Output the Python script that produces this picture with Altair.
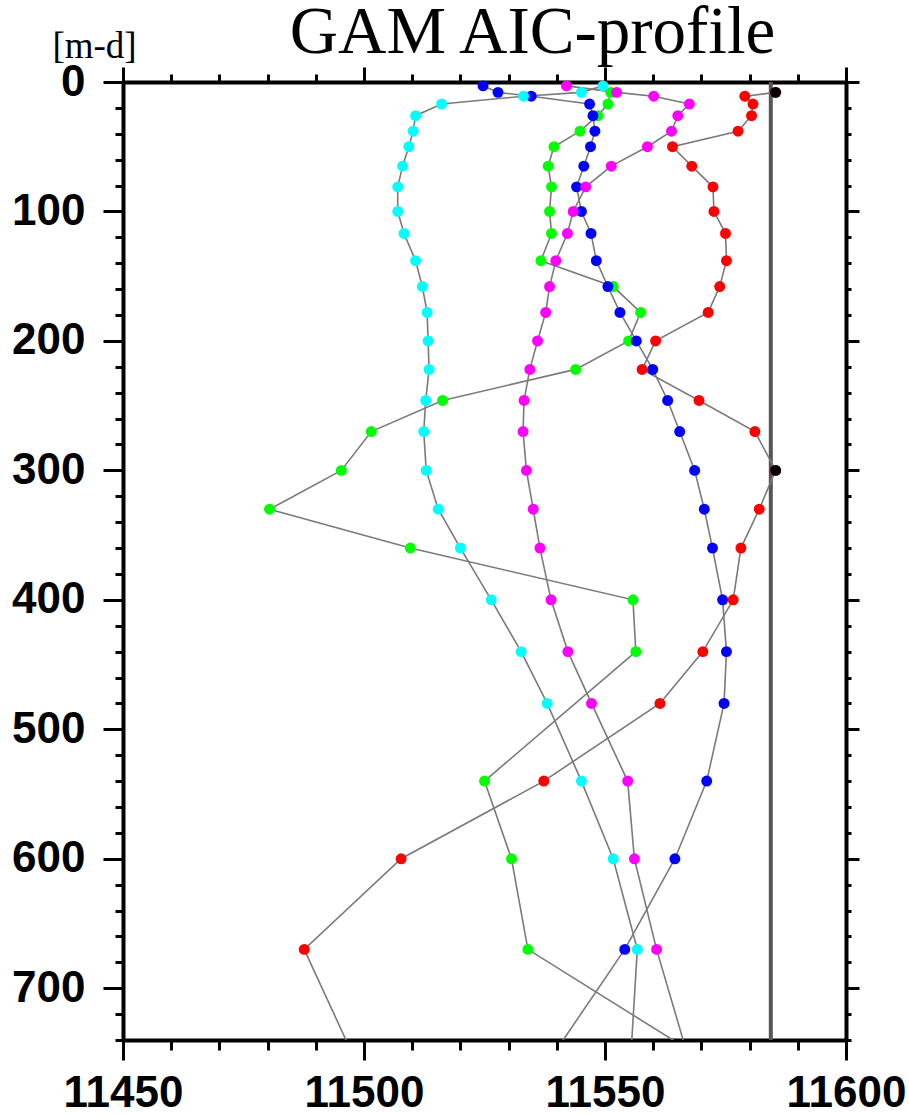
import altair as alt
import pandas as pd

# Measured depth of each profile row [m-d]
depth = [3, 8, 11, 17, 26, 38, 50, 65, 81, 100, 117, 138, 158, 178, 200,
         222, 246, 270, 300, 330, 360, 400, 440, 480, 540, 600, 670, 750]

# AIC of each GAM profile at those depths (None = no estimate at that depth)
aic_red = [None, 11585.4, 11579.0, 11580.7, 11580.4, 11577.6, 11564.0, 11568.0,
           11572.4, 11572.6, 11575.0, 11575.2, 11573.8, 11571.4, 11560.5, 11557.7,
           11569.5, 11581.1, 11585.4, 11582.0, 11578.2, 11576.6, 11570.3, 11561.4,
           11537.3, 11507.7, 11487.6, 11497.5]
aic_green = [None, 11551.2, None, 11550.6, 11548.5, 11544.8, 11539.4, 11538.2,
             11538.9, 11538.5, 11538.9, 11536.7, 11551.7, 11557.4, 11554.9, 11543.9,
             11516.3, 11501.5, 11495.3, 11480.4, 11509.6, 11555.8, 11556.4, None,
             11525.0, 11530.6, 11534.0, 11568.4]
aic_blue = [11524.7, 11527.8, 11534.7, 11546.8, 11547.5, 11547.9, 11547.0, 11545.6,
            11544.1, 11545.1, 11547.1, 11548.2, 11550.6, 11553.1, 11556.5, 11559.9,
            11563.0, 11565.5, 11568.6, 11570.6, 11572.3, 11574.4, 11575.2, 11574.7,
            11571.1, 11564.5, 11554.1, 11539.5]
aic_cyan = [11549.6, 11545.1, 11533.1, 11516.1, 11510.7, 11510.2, 11509.3, 11508.0,
            11507.0, 11507.0, 11508.3, 11510.7, 11512.1, 11513.1, 11513.3, 11513.5,
            11512.8, 11512.4, 11512.9, 11515.4, 11520.0, 11526.4, 11532.6, 11538.0,
            11545.1, 11551.7, 11556.7, 11555.4]
aic_magenta = [11542.0, 11552.4, 11560.1, 11567.5, 11565.1, 11563.8, 11558.8, 11551.3,
               11546.0, 11543.4, 11542.2, 11539.8, 11538.5, 11537.7, 11536.0, 11534.4,
               11533.2, 11533.0, 11533.7, 11535.1, 11536.5, 11538.8, 11542.3, 11547.2,
               11554.7, 11556.1, 11560.7, 11567.0]

series_names = ["red", "green", "blue", "cyan", "magenta"]
series_colors = ["#ff0000", "#00ff00", "#0000ff", "#00ffff", "#ff00ff"]
series_values = [aic_red, aic_green, aic_blue, aic_cyan, aic_magenta]

# Reference AIC level drawn as a vertical line
REF_AIC = 11584.4

# Axis ranges and tick positions
X_MIN, X_MAX = 11450, 11600
Y_MAX = 740
x_major = [11450, 11500, 11550, 11600]
x_minor = list(range(11450, 11601, 10))
y_major = list(range(0, 701, 100))
y_minor = list(range(0, 741, 20))

rows = []
for name, vals in zip(series_names, series_values):
    for d, v in zip(depth, vals):
        if v is not None:
            rows.append({"series": name, "depth": d, "aic": v})
profiles = pd.DataFrame(rows)

x_scale = alt.Scale(domain=[X_MIN, X_MAX], nice=False, zero=False)
y_scale = alt.Scale(domain=[0, Y_MAX], nice=False, reverse=True)

label_style = dict(labelFont="Liberation Sans", labelFontWeight="bold",
                   labelFontSize=44, labelColor="black")
line_style = dict(tickColor="black", tickWidth=3, domainColor="black",
                  domainWidth=4, grid=False)

base = alt.Chart(profiles)


def axis_layer(x_axis, y_axis):
    # invisible marks that only carry an extra set of axis ticks
    return base.mark_point(opacity=0).encode(
        x=alt.X("aic:Q", scale=x_scale, axis=x_axis),
        y=alt.Y("depth:Q", scale=y_scale, axis=y_axis),
    )


major = axis_layer(
    alt.Axis(orient="bottom", values=x_major, format="d", tickSize=20,
             domain=True, labels=True, labelPadding=11, labelFlush=False,
             labelOverlap=False, title=None, **label_style, **line_style),
    alt.Axis(orient="left", values=y_major, format="d", tickSize=20,
             domain=True, labels=True, labelPadding=18, labelOverlap=False,
             title="[m-d]", titleAngle=0, titleX=-29, titleY=-25,
             titleAlign="center", titleBaseline="alphabetic",
             titleFont="Liberation Serif", titleFontSize=37,
             titleFontWeight="normal", titleColor="black",
             **label_style, **line_style),
)
minor = axis_layer(
    alt.Axis(orient="bottom", values=x_minor, tickSize=10, domain=False,
             labels=False, title=None, **line_style),
    alt.Axis(orient="left", values=y_minor, tickSize=8, domain=False,
             labels=False, title=None, **line_style),
)
mirror_major = axis_layer(
    alt.Axis(orient="top", values=x_major, tickSize=15, domain=True,
             labels=False, title=None, **line_style),
    alt.Axis(orient="right", values=y_major, tickSize=13, domain=True,
             labels=False, title=None, **line_style),
)
mirror_minor = axis_layer(
    alt.Axis(orient="top", values=x_minor, tickSize=8, domain=False,
             labels=False, title=None, **line_style),
    alt.Axis(orient="right", values=y_minor, tickSize=5, domain=False,
             labels=False, title=None, **line_style),
)

ref_line = alt.Chart(pd.DataFrame({"aic": [REF_AIC]})).mark_rule(
    color="#555555", strokeWidth=4
).encode(x=alt.X("aic:Q", scale=x_scale, axis=None))

lines = base.mark_line(color="#7a7a7a", strokeWidth=1.6, clip=True).encode(
    x=alt.X("aic:Q", scale=x_scale, axis=None),
    y=alt.Y("depth:Q", scale=y_scale, axis=None),
    detail="series:N",
    order="depth:Q",
)

points = base.transform_filter(alt.datum.depth <= Y_MAX).mark_circle(
    size=120, opacity=1
).encode(
    x=alt.X("aic:Q", scale=x_scale, axis=None),
    y=alt.Y("depth:Q", scale=y_scale, axis=None),
    color=alt.Color("series:N",
                    scale=alt.Scale(domain=series_names, range=series_colors),
                    legend=None),
)

# the highest AIC of the red profile is marked in black
peaks = base.transform_filter(alt.datum.series == "red").transform_joinaggregate(
    peak="max(aic)"
).transform_filter(alt.datum.aic >= alt.datum.peak).mark_circle(
    size=120, opacity=1, color="black"
).encode(
    x=alt.X("aic:Q", scale=x_scale, axis=None),
    y=alt.Y("depth:Q", scale=y_scale, axis=None),
)

chart = alt.layer(
    major, minor, mirror_major, mirror_minor, ref_line, lines, points, peaks
).resolve_axis(
    x="independent", y="independent"
).properties(
    width=723,
    height=958,
    autosize=alt.AutoSizeParams(type="none"),
    padding={"left": 123, "top": 82, "right": 63, "bottom": 75},
    title=alt.TitleParams(
        text="GAM AIC-profile", font="Liberation Serif", fontSize=67,
        fontWeight="normal", color="black", anchor="middle", frame="group",
        baseline="alphabetic", offset=0, dx=48, dy=93,
    ),
).configure_view(strokeWidth=0).configure(background="white")

chart.save("out.html", embed_options={"renderer": "svg", "actions": False})
